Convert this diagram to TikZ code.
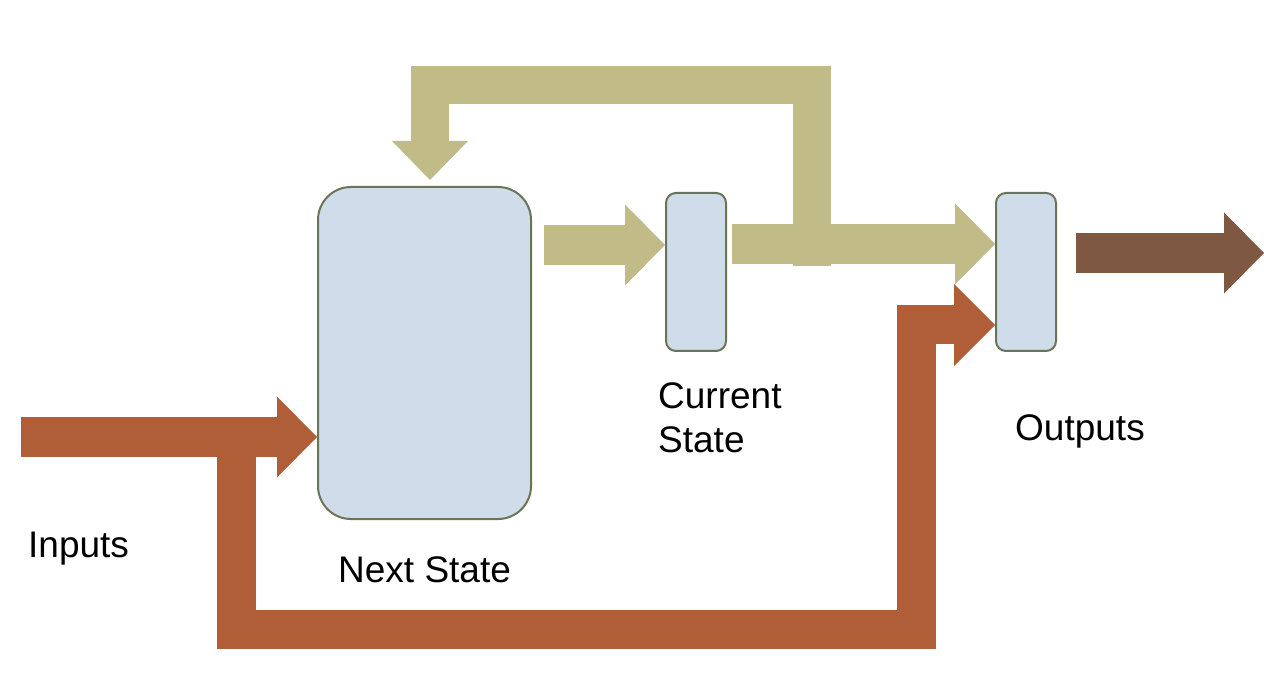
\documentclass[tikz,border=0pt]{standalone}
\usepackage{fontspec}
\setmainfont{Liberation Sans}
\usetikzlibrary{arrows.meta}
\definecolor{tanc}{HTML}{C1BB88}
\definecolor{rustc}{HTML}{B05E38}
\definecolor{brownc}{HTML}{7F5842}
\definecolor{boxfill}{HTML}{CFDDEA}
\definecolor{boxline}{HTML}{6B7456}
\tikzset{
  blockbox/.style={draw=boxline, line width=2pt, fill=boxfill, inner sep=0pt},
  fatarrow/.style={line width=40pt, line join=miter, line cap=butt,
    -{Triangle[length=40pt,width=81pt,line width=0pt]}},
  fatline/.style={line width=39pt, line join=miter, line cap=butt},
  lbl/.style={font=\fontsize{37}{44}\selectfont, inner sep=0pt, anchor=base west, align=left}
}
\begin{document}
\begin{tikzpicture}[x=1pt,y=-1pt]
\useasboundingbox[fill=white] (0,0) rectangle (1264,676);
% boxes
\node[blockbox, rounded corners=33pt, minimum width=213pt, minimum height=332pt] (NS) at (424.5,353) {};
\node[blockbox, rounded corners=10pt, minimum width=60pt, minimum height=158pt] (CS) at (696,272) {};
\node[blockbox, rounded corners=10pt, minimum width=60pt, minimum height=158pt] (OUT) at (1026,272) {};
% free ends
\coordinate (inStart) at (21,437);
\coordinate (outEnd) at (1264,253);
% tan arrows
\draw[fatarrow, tanc, shorten <=12pt] (NS.east |- 0,245) -- (CS.west |- 0,245);
\draw[fatarrow, tanc, shorten <=5pt] (CS.east |- 0,244) -- (OUT.west |- 0,244);
\draw[line width=38pt, line join=miter, line cap=butt, tanc, shorten >=6pt,
  -{Triangle[length=39pt,width=76pt,line width=0pt]}]
  (812,266) -- (812,85) -- (430,85) -- (430,0 |- NS.north);
% rust arrows
\draw[fatarrow, rustc] (inStart) -- (NS.west |- inStart);
\draw[fatline, rustc, -{Triangle[length=41pt,width=82pt,line width=0pt]}]
  (236,440) -- (236,629) -- (916,629) -- (916,325) -- (OUT.west |- 0,325);
% output arrow
\draw[fatarrow, brownc, shorten <=19pt] (OUT.east |- outEnd) -- (outEnd);
% labels
\node[lbl] (tIn) at (28,557) {Inputs};
\node[lbl] (tNS) at (338,582) {Next State};
\node[lbl] (tCS) at (658,452) {Current\\State};
\node[lbl] (tOut) at (1015,440) {Outputs};
\end{tikzpicture}
\end{document}
